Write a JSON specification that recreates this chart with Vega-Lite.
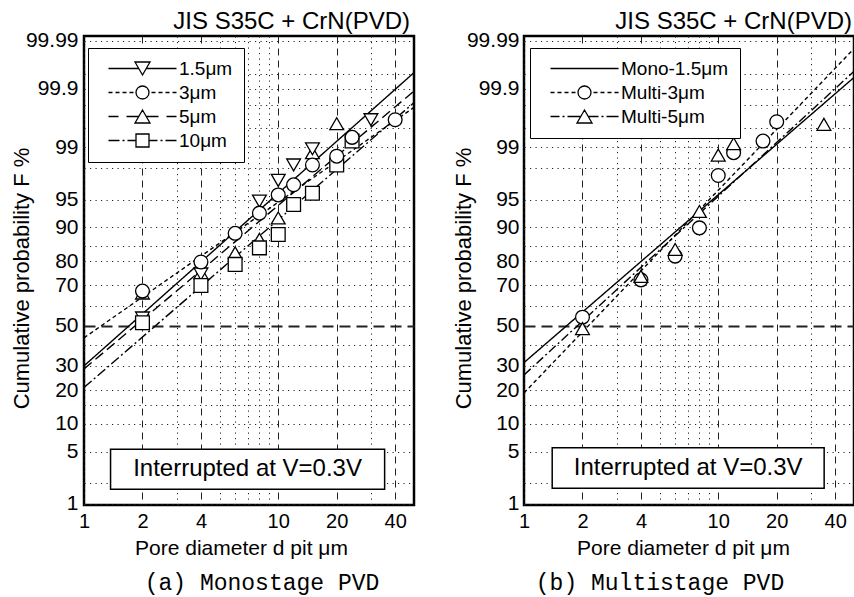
{
  "$schema": "https://vega.github.io/schema/vega-lite/v6.json",
  "background": "white",
  "padding": {"left": 9, "top": 7, "right": 0, "bottom": 0},
  "autosize": {"type": "pad"},
  "bounds": "flush",
  "spacing": 110,
  "config": {
    "view": {"stroke": "black", "strokeWidth": 2.5},
    "font": "Liberation Sans",
    "axis": {"domain": false, "ticks": false, "labelColor": "black", "titleColor": "black", "labelFont": "Liberation Sans", "titleFont": "Liberation Sans", "titleFontWeight": "normal", "gridColor": "#222", "gridOpacity": 1, "labelFlush": false, "labelBound": false}
  },
  "datasets": {
    "a_points": [
      {"series": "5μm", "d": 2, "F": 66.5}, {"series": "5μm", "d": 4, "F": 75.5}, {"series": "5μm", "d": 6, "F": 82.9}, {"series": "5μm", "d": 8, "F": 87}, {"series": "5μm", "d": 10, "F": 92}, {"series": "5μm", "d": 15, "F": 98.8}, {"series": "5μm", "d": 20, "F": 99.58},
      {"series": "1.5μm", "d": 2, "F": 54}, {"series": "1.5μm", "d": 4, "F": 75}, {"series": "1.5μm", "d": 8, "F": 94.8}, {"series": "1.5μm", "d": 10, "F": 97.1}, {"series": "1.5μm", "d": 12, "F": 98.2}, {"series": "1.5μm", "d": 15, "F": 98.95}, {"series": "1.5μm", "d": 30, "F": 99.64},
      {"series": "10μm", "d": 2, "F": 51.5}, {"series": "10μm", "d": 4, "F": 70}, {"series": "10μm", "d": 6, "F": 78.8}, {"series": "10μm", "d": 8, "F": 84.5}, {"series": "10μm", "d": 10, "F": 88.3}, {"series": "10μm", "d": 12, "F": 94.3}, {"series": "10μm", "d": 15, "F": 95.8}, {"series": "10μm", "d": 20, "F": 98.2}, {"series": "10μm", "d": 24, "F": 99.2},
      {"series": "3μm", "d": 2, "F": 67.4}, {"series": "3μm", "d": 4, "F": 79.7}, {"series": "3μm", "d": 6, "F": 88.6}, {"series": "3μm", "d": 8, "F": 92.9}, {"series": "3μm", "d": 10, "F": 95.6}, {"series": "3μm", "d": 12, "F": 96.7}, {"series": "3μm", "d": 15, "F": 98.2}, {"series": "3μm", "d": 20, "F": 98.65}, {"series": "3μm", "d": 24, "F": 99.3}, {"series": "3μm", "d": 40, "F": 99.64}
    ],
    "a_lines": [
      {"series": "1.5μm", "d": 1, "F": 30.0}, {"series": "1.5μm", "d": 50, "F": 99.952},
      {"series": "3μm", "d": 1, "F": 43.7}, {"series": "3μm", "d": 50, "F": 99.78},
      {"series": "5μm", "d": 1, "F": 28.6}, {"series": "5μm", "d": 50, "F": 99.89},
      {"series": "10μm", "d": 1, "F": 21.0}, {"series": "10μm", "d": 50, "F": 99.82}
    ],
    "b_points": [
      {"series": "Multi-3μm", "d": 2, "F": 54.4}, {"series": "Multi-3μm", "d": 4, "F": 72.5}, {"series": "Multi-3μm", "d": 6, "F": 81.8}, {"series": "Multi-3μm", "d": 8, "F": 89.9}, {"series": "Multi-3μm", "d": 10, "F": 97.5}, {"series": "Multi-3μm", "d": 12, "F": 98.8}, {"series": "Multi-3μm", "d": 17, "F": 99.2}, {"series": "Multi-3μm", "d": 20, "F": 99.61},
      {"series": "Multi-5μm", "d": 2, "F": 48.5}, {"series": "Multi-5μm", "d": 4, "F": 74}, {"series": "Multi-5μm", "d": 6, "F": 84}, {"series": "Multi-5μm", "d": 8, "F": 93.2}, {"series": "Multi-5μm", "d": 10, "F": 98.7}, {"series": "Multi-5μm", "d": 12, "F": 99.12}, {"series": "Multi-5μm", "d": 35, "F": 99.57}
    ],
    "b_lines": [
      {"series": "Mono-1.5μm", "d": 1, "F": 31.5}, {"series": "Mono-1.5μm", "d": 50, "F": 99.94},
      {"series": "Multi-3μm", "d": 1, "F": 19}, {"series": "Multi-3μm", "d": 50, "F": 99.985},
      {"series": "Multi-5μm", "d": 1, "F": 26}, {"series": "Multi-5μm", "d": 50, "F": 99.955}
    ],
    "note": [{"label": "Interrupted at V=0.3V"}]
  },
  "resolve": {"scale": {"x": "independent", "y": "independent", "shape": "independent", "strokeDash": "independent"}},
  "hconcat": [
    {
      "width": 330, "height": 469,
      "title": {"text": "(a) Monostage PVD", "orient": "bottom", "anchor": "middle", "font": "Liberation Mono", "fontSize": 23, "fontWeight": "normal", "color": "black", "dx": 13, "offset": 14},
      "resolve": {"axis": {"x": "independent", "y": "independent"}, "scale": {"shape": "independent"}},
      "layer": [
        {
          "data": {"name": "note"},
          "mark": {"type": "rect", "fill": "white", "stroke": "black", "strokeWidth": 1.5},
          "encoding": {
            "x": {"datum": 1.37, "type": "quantitative", "scale": {"type": "log", "domain": [1, 50], "nice": false}, "axis": null},
            "x2": {"datum": 35.3},
            "y": {"datum": -1.611, "type": "quantitative", "scale": {"domain": [-2.34, 3.78], "nice": false, "zero": false}, "axis": null},
            "y2": {"datum": -2.133}
          }
        },
        {
          "data": {"name": "note"},
          "mark": {"type": "text", "fontSize": 24, "font": "Liberation Sans", "color": "black"},
          "encoding": {
            "x": {"datum": 6.95, "type": "quantitative", "axis": null},
            "y": {"datum": -1.872, "type": "quantitative", "axis": null},
            "text": {"field": "label"}
          }
        },
        {
          "data": {"name": "a_lines"},
          "transform": [{"calculate": "quantileNormal(datum.F / 100)", "as": "z"}],
          "mark": {"type": "line", "color": "black", "strokeWidth": 1.4, "clip": true},
          "encoding": {
            "x": {"field": "d", "type": "quantitative", "axis": null},
            "y": {"field": "z", "type": "quantitative", "axis": null},
            "strokeDash": {"field": "series", "type": "nominal", "scale": {"domain": ["1.5μm", "3μm", "5μm", "10μm"], "range": [[1, 0], [4, 3], [10, 5], [10, 3, 2, 3]]}, "legend": null}
          }
        },
        {
          "data": {"name": "a_points"},
          "transform": [{"calculate": "quantileNormal(datum.F / 100)", "as": "z"}],
          "mark": {"type": "point", "filled": true, "fill": "white", "stroke": "black", "strokeWidth": 1.3, "size": 190, "opacity": 1},
          "encoding": {
            "x": {"field": "d", "type": "quantitative", "axis": {
              "orient": "bottom",
              "values": [1, 2, 3, 4, 5, 6, 7, 8, 9, 10, 20, 30, 40],
              "labelExpr": "indexof([1, 2, 4, 10, 20, 40], datum.value) >= 0 ? '' + datum.value : ''",
              "title": "Pore diameter d pit μm", "titleFontSize": 21, "labelFontSize": 20, "labelPadding": 6,
              "titleX": 157, "titleY": 49, "titleBaseline": "alphabetic",
              "grid": true,
              "gridDash": {"condition": {"test": "indexof([2, 4, 10, 20, 40], datum.value) >= 0", "value": [7, 5]}, "value": [1.2, 4.3]},
              "gridWidth": 1
            }},
            "y": {"field": "z", "type": "quantitative", "axis": {
              "orient": "left",
              "values": [-2.326348, -2.053749, -1.644854, -1.281552, -1.036433, -0.841621, -0.524401, -0.253347, 0, 0.253347, 0.524401, 0.841621, 1.036433, 1.281552, 1.644854, 2.053749, 2.326348, 2.575829, 2.878162, 3.090232, 3.290527, 3.719016],
              "labels": false, "title": null,
              "grid": true,
              "gridDash": {"condition": {"test": "abs(datum.value) < 0.001", "value": [11, 6]}, "value": [1.2, 4.3]},
              "gridWidth": {"condition": {"test": "abs(datum.value) < 0.001", "value": 1.8}, "value": 1}
            }},
            "shape": {"field": "series", "type": "nominal", "scale": {"domain": ["1.5μm", "3μm", "5μm", "10μm"], "range": ["triangle-down", "circle", "triangle-up", "square"]}, "legend": null}
          }
        },
        {
          "data": {"name": "a_points"},
          "transform": [{"filter": "false"}],
          "mark": {"type": "point", "filled": false, "stroke": "black", "color": "black", "strokeWidth": 1.3, "opacity": 1},
          "encoding": {
            "x": {"field": "d", "type": "quantitative", "axis": {"orient": "top", "title": "JIS S35C + CrN(PVD)", "labels": false, "ticks": false, "domain": false, "grid": false, "titleFontSize": 24, "titleX": 325.5, "titleY": -8, "titleAlign": "right", "titleBaseline": "alphabetic"}},
            "y": {"field": "z", "type": "quantitative", "axis": {
              "orient": "left",
              "values": [-2.326348, -1.644854, -1.281552, -0.841621, -0.524401, 0, 0.524401, 0.841621, 1.281552, 1.644854, 2.326348, 3.090232, 3.719016],
              "labelExpr": "datum.value < -2.3 ? '1' : abs(datum.value + 1.644854) < 0.01 ? '5' : abs(datum.value + 1.281552) < 0.01 ? '10' : abs(datum.value + 0.841621) < 0.01 ? '20' : abs(datum.value + 0.524401) < 0.01 ? '30' : abs(datum.value) < 0.01 ? '50' : abs(datum.value - 0.524401) < 0.01 ? '70' : abs(datum.value - 0.841621) < 0.01 ? '80' : abs(datum.value - 1.281552) < 0.01 ? '90' : abs(datum.value - 1.644854) < 0.01 ? '95' : abs(datum.value - 2.326348) < 0.01 ? '99' : abs(datum.value - 3.090232) < 0.01 ? '99.9' : abs(datum.value - 3.719016) < 0.01 ? '99.99' : ''",
              "labelOverlap": false, "grid": false,
              "title": "Cumulative probability F %", "titleFontSize": 22, "labelFontSize": 21, "labelPadding": 6,
              "titleX": -62.7, "titleY": 242, "titleBaseline": "middle"
            }},
            "shape": {"field": "series", "type": "nominal",
              "scale": {"domain": ["1.5μm", "3μm", "5μm", "10μm"], "range": [
                "M 0 0 L 30.25 0 M 37.75 0 L 68 0 M 26.5 -6.5 L 41.5 -6.5 L 34 6.5 Z",
                "M 0 0 L 4 0 M 7 0 L 11 0 M 14 0 L 18 0 M 21 0 L 25 0 M 43 0 L 47 0 M 50 0 L 54 0 M 57 0 L 61 0 M 64 0 L 68 0 M 40.5 0 A 6.5 6.5 0 1 1 27.5 0 A 6.5 6.5 0 1 1 40.5 0 Z",
                "M 0 0 L 10 0 M 18 0 L 30.25 0 M 37.75 0 L 50 0 M 58 0 L 68 0 M 34 -6.5 L 41.5 6.5 L 26.5 6.5 Z",
                "M 0 0 L 11 0 M 14 0 L 16 0 M 19 0 L 27.5 0 M 40.5 0 L 49 0 M 52 0 L 54 0 M 57 0 L 68 0 M 27.5 -6.5 L 40.5 -6.5 L 40.5 6.5 L 27.5 6.5 Z"
              ]},
              "legend": {"orient": "none", "legendX": 4, "legendY": 12, "title": null, "padding": 11, "strokeColor": "black", "fillColor": "white", "labelFontSize": 19, "labelFont": "Liberation Sans", "labelColor": "black", "symbolSize": 4, "symbolStrokeColor": "black", "symbolStrokeWidth": 1.3, "symbolOpacity": 1, "labelOffset": 61, "rowPadding": 4, "labelLimit": 300}
            }
          }
        }
      ]
    },
    {
      "width": 330, "height": 469,
      "title": {"text": "(b) Multistage PVD", "orient": "bottom", "anchor": "middle", "font": "Liberation Mono", "fontSize": 23, "fontWeight": "normal", "color": "black", "dx": -29, "offset": 14},
      "resolve": {"axis": {"x": "independent", "y": "independent"}, "scale": {"shape": "independent"}},
      "layer": [
        {
          "data": {"name": "note"},
          "mark": {"type": "rect", "fill": "white", "stroke": "black", "strokeWidth": 1.5},
          "encoding": {
            "x": {"datum": 1.397, "type": "quantitative", "scale": {"type": "log", "domain": [1, 50], "nice": false}, "axis": null},
            "x2": {"datum": 35.1},
            "y": {"datum": -1.594, "type": "quantitative", "scale": {"domain": [-2.34, 3.78], "nice": false, "zero": false}, "axis": null},
            "y2": {"datum": -2.12}
          }
        },
        {
          "data": {"name": "note"},
          "mark": {"type": "text", "fontSize": 24, "font": "Liberation Sans", "color": "black"},
          "encoding": {
            "x": {"datum": 7.0, "type": "quantitative", "axis": null},
            "y": {"datum": -1.859, "type": "quantitative", "axis": null},
            "text": {"field": "label"}
          }
        },
        {
          "data": {"name": "b_lines"},
          "transform": [{"calculate": "quantileNormal(datum.F / 100)", "as": "z"}],
          "mark": {"type": "line", "color": "black", "strokeWidth": 1.4, "clip": true},
          "encoding": {
            "x": {"field": "d", "type": "quantitative", "axis": null},
            "y": {"field": "z", "type": "quantitative", "axis": null},
            "strokeDash": {"field": "series", "type": "nominal", "scale": {"domain": ["Mono-1.5μm", "Multi-3μm", "Multi-5μm"], "range": [[1, 0], [4, 3], [9, 3, 2, 3]]}, "legend": null}
          }
        },
        {
          "data": {"name": "b_points"},
          "transform": [{"calculate": "quantileNormal(datum.F / 100)", "as": "z"}],
          "mark": {"type": "point", "filled": true, "fill": "white", "stroke": "black", "strokeWidth": 1.3, "size": 190, "opacity": 1},
          "encoding": {
            "x": {"field": "d", "type": "quantitative", "axis": {
              "orient": "bottom",
              "values": [1, 2, 3, 4, 5, 6, 7, 8, 9, 10, 20, 30, 40],
              "labelExpr": "indexof([1, 2, 4, 10, 20, 40], datum.value) >= 0 ? '' + datum.value : ''",
              "title": "Pore diameter d pit μm", "titleFontSize": 21, "labelFontSize": 20, "labelPadding": 6,
              "titleX": 159, "titleY": 49, "titleBaseline": "alphabetic",
              "grid": true,
              "gridDash": {"condition": {"test": "indexof([2, 4, 10, 20, 40], datum.value) >= 0", "value": [7, 5]}, "value": [1.2, 4.3]},
              "gridWidth": 1
            }},
            "y": {"field": "z", "type": "quantitative", "axis": {
              "orient": "left",
              "values": [-2.326348, -2.053749, -1.644854, -1.281552, -1.036433, -0.841621, -0.524401, -0.253347, 0, 0.253347, 0.524401, 0.841621, 1.036433, 1.281552, 1.644854, 2.053749, 2.326348, 2.575829, 2.878162, 3.090232, 3.290527, 3.719016],
              "labels": false, "title": null,
              "grid": true,
              "gridDash": {"condition": {"test": "abs(datum.value) < 0.001", "value": [11, 6]}, "value": [1.2, 4.3]},
              "gridWidth": {"condition": {"test": "abs(datum.value) < 0.001", "value": 1.8}, "value": 1}
            }},
            "shape": {"field": "series", "type": "nominal", "scale": {"domain": ["Multi-3μm", "Multi-5μm"], "range": ["circle", "triangle-up"]}, "legend": null}
          }
        },
        {
          "data": {"name": "b_points"},
          "transform": [{"filter": "false"}],
          "mark": {"type": "point", "filled": false, "stroke": "black", "color": "black", "strokeWidth": 1.3, "opacity": 1},
          "encoding": {
            "x": {"field": "d", "type": "quantitative", "axis": {"orient": "top", "title": "JIS S35C + CrN(PVD)", "labels": false, "ticks": false, "domain": false, "grid": false, "titleFontSize": 24, "titleX": 327.5, "titleY": -8, "titleAlign": "right", "titleBaseline": "alphabetic"}},
            "y": {"field": "z", "type": "quantitative", "axis": {
              "orient": "left",
              "values": [-2.326348, -1.644854, -1.281552, -0.841621, -0.524401, 0, 0.524401, 0.841621, 1.281552, 1.644854, 2.326348, 3.090232, 3.719016],
              "labelExpr": "datum.value < -2.3 ? '1' : abs(datum.value + 1.644854) < 0.01 ? '5' : abs(datum.value + 1.281552) < 0.01 ? '10' : abs(datum.value + 0.841621) < 0.01 ? '20' : abs(datum.value + 0.524401) < 0.01 ? '30' : abs(datum.value) < 0.01 ? '50' : abs(datum.value - 0.524401) < 0.01 ? '70' : abs(datum.value - 0.841621) < 0.01 ? '80' : abs(datum.value - 1.281552) < 0.01 ? '90' : abs(datum.value - 1.644854) < 0.01 ? '95' : abs(datum.value - 2.326348) < 0.01 ? '99' : abs(datum.value - 3.090232) < 0.01 ? '99.9' : abs(datum.value - 3.719016) < 0.01 ? '99.99' : ''",
              "labelOverlap": false, "grid": false,
              "title": "Cumulative probability F %", "titleFontSize": 22, "labelFontSize": 21, "labelPadding": 5,
              "titleX": -61, "titleY": 242, "titleBaseline": "middle"
            }},
            "shape": {"field": "series", "type": "nominal",
              "scale": {"domain": ["Mono-1.5μm", "Multi-3μm", "Multi-5μm"], "range": [
                "M 0 0 L 68 0",
                "M 0 0 L 4 0 M 7 0 L 11 0 M 14 0 L 18 0 M 21 0 L 25 0 M 43 0 L 47 0 M 50 0 L 54 0 M 57 0 L 61 0 M 64 0 L 68 0 M 40.5 0 A 6.5 6.5 0 1 1 27.5 0 A 6.5 6.5 0 1 1 40.5 0 Z",
                "M 0 0 L 9 0 M 12 0 L 14 0 M 17 0 L 30.25 0 M 37.75 0 L 48 0 M 51 0 L 53 0 M 56 0 L 68 0 M 34 -6.5 L 41.5 6.5 L 26.5 6.5 Z"
              ]},
              "legend": {"orient": "none", "legendX": 6, "legendY": 12, "title": null, "padding": 11, "strokeColor": "black", "fillColor": "white", "labelFontSize": 19, "labelFont": "Liberation Sans", "labelColor": "black", "symbolSize": 4, "symbolStrokeColor": "black", "symbolStrokeWidth": 1.3, "symbolOpacity": 1, "labelOffset": 61, "rowPadding": 4, "labelLimit": 300}
            }
          }
        }
      ]
    }
  ]
}
